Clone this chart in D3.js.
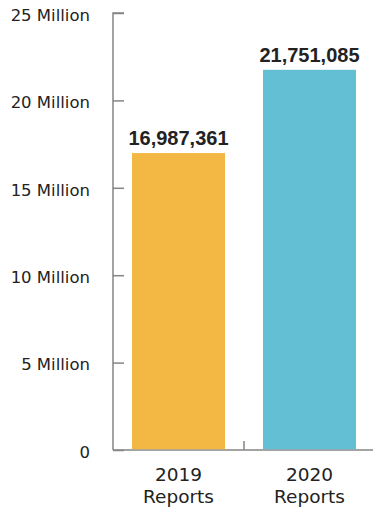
<!DOCTYPE html>
<html><head><meta charset="utf-8">
<script src="https://cdn.jsdelivr.net/npm/d3@7"></script>
<style>
html,body{margin:0;padding:0;background:#fff;}
svg{display:block;}
text{font-family:"DejaVu Sans",sans-serif;fill:#222;}
</style></head>
<body>
<svg id="chart" width="373" height="509"></svg>
<script>
const categories = ["2019", "2020"];
const categorySub = ["Reports", "Reports"];
const values = [16987361, 21751085];
const colors = ["#F2B843", "#62BFD4"];
const tickValues = [0, 5000000, 10000000, 15000000, 20000000, 25000000];
const tickLabels = ["0", "5 Million", "10 Million", "15 Million", "20 Million", "25 Million"];

const svg = d3.select("#chart");
const axisX = 113, baseY = 450, topY = 13, rightX = 375;

const y = d3.scaleLinear().domain([0, 25000000]).range([baseY, topY]);
const x = d3.scaleBand().domain(categories).range([axisX, rightX]).padding(0);
const barFrac = 0.71;

// y axis
const yAxis = svg.append("g").attr("transform", `translate(${axisX},0)`)
  .call(d3.axisRight(y).tickValues(tickValues).tickSize(11).tickFormat(""));
yAxis.select(".domain").attr("d", `M11,${topY}H0V${baseY}`).attr("stroke", "#858585").attr("stroke-width", 1.5);
yAxis.selectAll(".tick line").attr("stroke", "#858585").attr("stroke-width", 1.5);

svg.append("g").selectAll("text").data(tickValues).join("text")
  .attr("x", 90).attr("y", d => y(d) + 2).attr("dy", "0.35em")
  .attr("text-anchor", "end").attr("font-size", 16.5).text((d, i) => tickLabels[i]);

// x axis line
svg.append("line").attr("x1", axisX).attr("x2", rightX).attr("y1", baseY).attr("y2", baseY)
  .attr("stroke", "#858585").attr("stroke-width", 1.5);
svg.append("g").selectAll("line").data(categories).join("line")
  .attr("x1", d => x(d) + x.bandwidth()).attr("x2", d => x(d) + x.bandwidth())
  .attr("y1", baseY).attr("y2", baseY - 9)
  .attr("stroke", "#858585").attr("stroke-width", 1.5);

// bars
const bw = x.bandwidth() * barFrac;
svg.append("g").selectAll("rect").data(values).join("rect")
  .attr("x", (d, i) => x(categories[i]) + (x.bandwidth() - bw) / 2)
  .attr("width", bw)
  .attr("y", d => y(d))
  .attr("height", d => baseY - 0.75 - y(d))
  .attr("fill", (d, i) => colors[i]);

// value labels
svg.append("g").selectAll("text").data(values).join("text")
  .attr("x", (d, i) => x(categories[i]) + x.bandwidth() / 2)
  .attr("y", d => y(d) - 8)
  .attr("text-anchor", "middle").attr("font-size", 20).attr("font-weight", "bold")
  .style("font-family", "'Liberation Sans', Arial, sans-serif")
  .text(d => d3.format(",")(d));

// category labels
const g = svg.append("g");
g.selectAll("text.yr").data(categories).join("text").attr("class", "yr")
  .attr("text-anchor", "middle").attr("font-size", 18.5)
  .attr("x", d => x(d) + x.bandwidth() / 2).attr("y", 481).text(d => d);
g.selectAll("text.sub").data(categories).join("text").attr("class", "sub")
  .attr("text-anchor", "middle").attr("font-size", 18.5)
  .attr("x", d => x(d) + x.bandwidth() / 2).attr("y", 503).text((d, i) => categorySub[i]);
</script>
</body></html>
